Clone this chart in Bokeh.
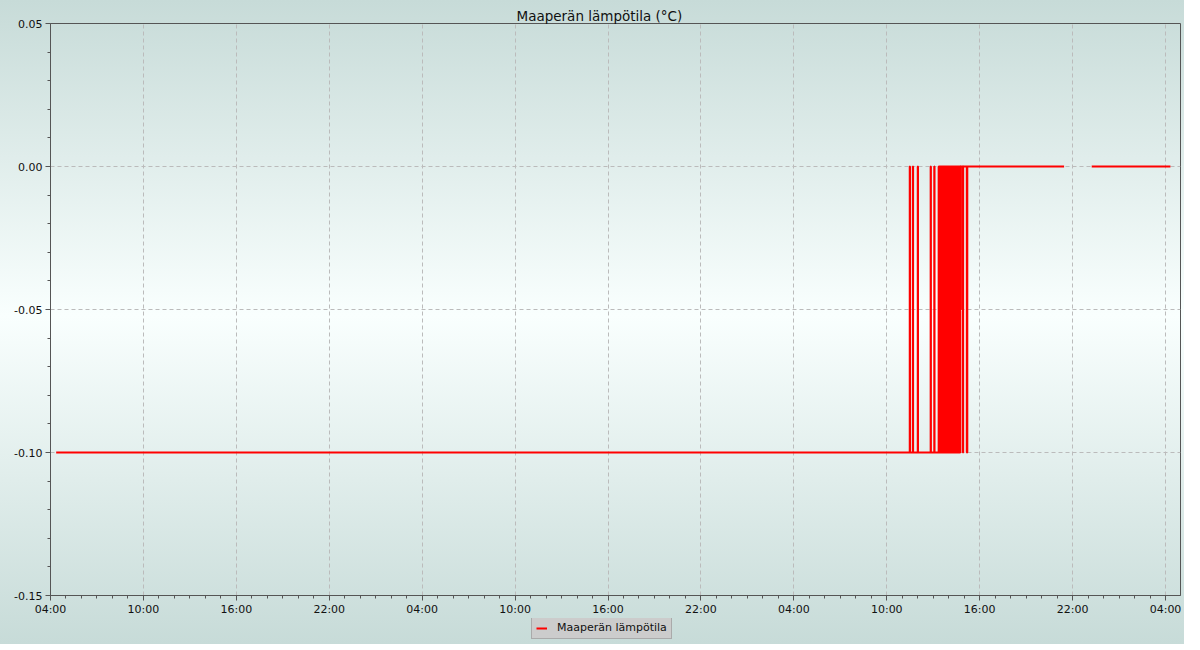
import numpy as np
import pandas as pd
from bokeh.plotting import figure
from bokeh.layouts import column
from bokeh.models import (FixedTicker, DatetimeTickFormatter, NumeralTickFormatter,
                          Legend, LegendItem, Range1d, ColumnDataSource)
from bokeh.embed import file_html
from bokeh.resources import INLINE

# ---------------- data ----------------
title_text = "Maaperän lämpötila (°C)"
series_name = "Maaperän lämpötila"

soil_time = [
    "2024-05-01 04:22", "2024-05-03 11:29", "2024-05-03 11:30",
    "2024-05-03 11:41", "2024-05-03 11:42",
    "2024-05-03 12:00", "2024-05-03 12:01",
    "2024-05-03 12:50", "2024-05-03 12:51",
    "2024-05-03 13:04", "2024-05-03 13:05",
    "2024-05-03 13:21", "2024-05-03 13:23", "2024-05-03 13:25",
    "2024-05-03 13:27", "2024-05-03 13:29", "2024-05-03 13:31", "2024-05-03 13:33",
    "2024-05-03 13:35", "2024-05-03 13:37", "2024-05-03 13:39", "2024-05-03 13:41",
    "2024-05-03 13:43", "2024-05-03 13:45", "2024-05-03 13:47", "2024-05-03 13:49",
    "2024-05-03 13:51", "2024-05-03 13:53", "2024-05-03 13:55", "2024-05-03 13:57",
    "2024-05-03 13:59", "2024-05-03 14:01", "2024-05-03 14:03", "2024-05-03 14:05",
    "2024-05-03 14:07", "2024-05-03 14:09", "2024-05-03 14:11", "2024-05-03 14:13",
    "2024-05-03 14:15", "2024-05-03 14:17", "2024-05-03 14:19", "2024-05-03 14:21",
    "2024-05-03 14:23", "2024-05-03 14:25", "2024-05-03 14:27", "2024-05-03 14:29",
    "2024-05-03 14:31", "2024-05-03 14:33", "2024-05-03 14:35", "2024-05-03 14:37",
    "2024-05-03 14:39", "2024-05-03 14:41", "2024-05-03 14:43", "2024-05-03 14:45",
    "2024-05-03 14:46", "2024-05-03 14:47",
    "2024-05-03 14:55", "2024-05-03 14:56",
    "2024-05-03 15:10", "2024-05-03 15:12",
    "2024-05-03 21:27", "2024-05-03 22:20", "2024-05-03 23:14", "2024-05-04 04:19",
]
soil_temp = [
    -0.10, 0.00, -0.10,
    0.00, -0.10,
    0.00, -0.10,
    0.00, -0.10,
    0.00, -0.10,
    0.00, -0.10, 0.00,
    -0.10, 0.00, -0.10, 0.00,
    -0.10, 0.00, -0.10, 0.00,
    -0.10, 0.00, -0.10, 0.00,
    -0.10, 0.00, -0.10, 0.00,
    -0.10, 0.00, -0.10, 0.00,
    -0.10, 0.00, -0.10, 0.00,
    -0.10, 0.00, -0.10, 0.00,
    -0.10, 0.00, -0.10, 0.00,
    -0.10, 0.00, -0.10, 0.00,
    -0.10, 0.00, -0.10, 0.00,
    -0.05, 0.00,
    -0.10, 0.00,
    -0.10, 0.00,
    0.00, np.nan, 0.00, 0.00,
]

x_start = "2024-05-01 04:00"
x_end = "2024-05-04 04:58"
x_major_ticks = ["2024-05-01 04:00", "2024-05-01 10:00", "2024-05-01 16:00", "2024-05-01 22:00",
                 "2024-05-02 04:00", "2024-05-02 10:00", "2024-05-02 16:00", "2024-05-02 22:00",
                 "2024-05-03 04:00", "2024-05-03 10:00", "2024-05-03 16:00", "2024-05-03 22:00",
                 "2024-05-04 04:00"]
y_major_ticks = [-0.15, -0.10, -0.05, 0.00, 0.05]
y_minor_ticks = [-0.14, -0.13, -0.12, -0.11, -0.09, -0.08, -0.07, -0.06,
                 -0.04, -0.03, -0.02, -0.01, 0.01, 0.02, 0.03, 0.04]


def to_ms(s):
    return pd.Timestamp(s).timestamp() * 1000.0


# split the series at its gap (missing value)
times = pd.to_datetime(soil_time)
gap = int(np.where(np.isnan(np.array(soil_temp, dtype=float)))[0][0])
src_a = ColumnDataSource(dict(t=times[:gap], v=soil_temp[:gap]))
src_b = ColumnDataSource(dict(t=times[gap + 1:], v=soil_temp[gap + 1:]))

p = figure(x_axis_type="datetime",
           x_range=Range1d(to_ms(x_start), to_ms(x_end)),
           y_range=Range1d(-0.15, 0.05),
           frame_width=1130, frame_height=572,
           min_border_left=50, min_border_right=4, min_border_top=23, min_border_bottom=0,
           output_backend="svg", toolbar_location=None, title=title_text)

p.border_fill_alpha = 0
p.background_fill_alpha = 0
p.outline_line_color = "#555555"

p.title.text_font = "DejaVu Sans"
p.title.text_font_size = "13.5px"
p.title.text_font_style = "normal"
p.title.text_color = "#111111"
p.title.align = "left"
p.title.standoff = 0
p.title.offset = 466

r1 = p.step("t", "v", source=src_a, mode="after", line_color="#ff0000", line_width=2)
r2 = p.step("t", "v", source=src_b, mode="after", line_color="#ff0000", line_width=2)

minor_hours = pd.date_range(x_start, "2024-05-04 05:00", freq="h")
p.xaxis.ticker = FixedTicker(ticks=[to_ms(s) for s in x_major_ticks],
                             minor_ticks=[to_ms(s) for s in minor_hours])
fmt = "%H:%M"
p.xaxis.formatter = DatetimeTickFormatter(milliseconds=fmt, seconds=fmt, minsec=fmt, minutes=fmt,
                                          hourmin=fmt, hours=fmt, days=fmt, months=fmt, years=fmt)
p.yaxis.ticker = FixedTicker(ticks=y_major_ticks, minor_ticks=y_minor_ticks)
p.yaxis.formatter = NumeralTickFormatter(format="0.00")

for ax in (p.xaxis, p.yaxis):
    ax.axis_line_color = "#555555"
    ax.major_tick_line_color = "#555555"
    ax.minor_tick_line_color = "#555555"
    ax.major_tick_in = 0
    ax.major_tick_out = 5
    ax.minor_tick_in = 0
    ax.minor_tick_out = 3
    ax.major_label_text_font = "DejaVu Sans"
    ax.major_label_text_font_size = "11px"
    ax.major_label_text_color = "#111111"
p.xaxis.major_label_standoff = 2
p.yaxis.major_label_standoff = 3

for g in (p.xgrid, p.ygrid):
    g.grid_line_color = "#bbbbbb"
    g.grid_line_dash = "4 3"
    g.grid_line_width = 1

# legend strip below the chart (same series, drawn out of its view, used only for the key)
pl = figure(width=1184, height=26, x_axis_type="datetime",
            x_range=Range1d(to_ms(x_start), to_ms(x_end)), y_range=Range1d(1, 2),
            min_border=0, x_axis_location=None, y_axis_location=None,
            output_backend="svg", toolbar_location=None)
pl.border_fill_alpha = 0
pl.background_fill_alpha = 0
pl.outline_line_color = None
pl.grid.visible = False
lr = pl.step("t", "v", source=src_a, mode="after", line_color="#ff0000", line_width=2)

legend = Legend(items=[LegendItem(label=series_name, renderers=[lr])],
                location=(481, 5))
legend.background_fill_color = "#cccccc"
legend.background_fill_alpha = 1
legend.border_line_color = "#888888"
legend.label_text_font = "DejaVu Sans"
legend.label_text_font_size = "11px"
legend.label_text_color = "#111111"
legend.label_height = 12
legend.glyph_width = 11
legend.glyph_height = 10
legend.padding = 4
legend.label_standoff = 10
legend.margin = 0
pl.add_layout(legend)

layout = column(p, pl, spacing=0,
                styles={"background": "linear-gradient(to bottom, #c7dbd8 0%, #f9fffe 49%, #c7dbd8 100%)"})

open("out.html", "w").write(file_html(layout, INLINE))
